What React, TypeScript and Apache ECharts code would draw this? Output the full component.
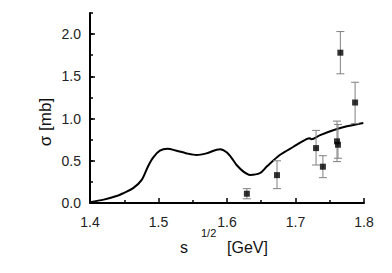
import React, { useEffect, useRef } from "react";
import * as echarts from "echarts";

const curveX = [1.40, 1.42, 1.44, 1.449, 1.463, 1.4755, 1.485, 1.4924, 1.502, 1.513, 1.5265, 1.54, 1.5557, 1.57, 1.5898, 1.5995, 1.609, 1.614, 1.624, 1.6336, 1.648, 1.658, 1.677, 1.697, 1.716, 1.721, 1.723, 1.736, 1.755, 1.775, 1.799];
const curveY = [0.01, 0.04, 0.085, 0.118, 0.176, 0.274, 0.439, 0.541, 0.619, 0.642, 0.619, 0.59, 0.568, 0.588, 0.637, 0.6, 0.509, 0.45, 0.372, 0.333, 0.353, 0.431, 0.568, 0.666, 0.756, 0.768, 0.755, 0.804, 0.862, 0.909, 0.948];

const pointX = [1.629, 1.673, 1.730, 1.740, 1.7606, 1.762, 1.7655, 1.787];
const pointY = [0.11, 0.33, 0.65, 0.43, 0.73, 0.69, 1.78, 1.19];
const errLow = [0.05, 0.17, 0.45, 0.30, 0.49, 0.53, 1.53, 0.94];
const errHigh = [0.17, 0.50, 0.86, 0.56, 0.97, 0.93, 2.03, 1.43];

const xTicks = [1.4, 1.5, 1.6, 1.7, 1.8];
const yTicks = [0.0, 0.5, 1.0, 1.5, 2.0];

const yTitle = "σ [mb]";
const xTitleBase = "s";
const xTitleSup = "1/2";
const xTitleUnit = "[GeV]";
const FONT = "'Liberation Sans', Arial, sans-serif";

export default function App() {
  const ref = useRef<HTMLDivElement>(null);
  useEffect(() => {
    if (!ref.current) return;
    const chart = echarts.init(ref.current, null, { renderer: "svg" });
    const axisLine = { show: true, lineStyle: { color: "#000", width: 2 } };
    const titleStyle = { fontSize: 16, fontFamily: FONT, fill: "#111", verticalAlign: "middle" };
    chart.setOption({
      animation: false,
      backgroundColor: "#fff",
      grid: { left: 90, right: 28, top: 13, bottom: 70 },
      graphic: [
        {
          type: "text",
          x: 45,
          y: 122,
          rotation: Math.PI / 2,
          style: {
            text: yTitle,
            fontSize: 17,
            fontFamily: FONT,
            fill: "#111",
            align: "center",
            verticalAlign: "middle",
          },
        },
        { type: "text", x: 180, y: 247, style: { ...titleStyle, text: xTitleBase, align: "left" } },
        { type: "text", x: 201, y: 233, style: { ...titleStyle, fontSize: 11, text: xTitleSup, align: "left" } },
        { type: "text", x: 227, y: 247, style: { ...titleStyle, text: xTitleUnit, align: "left" } },
      ],
      xAxis: [
        {
          type: "value",
          position: "bottom",
          min: xTicks[0],
          max: xTicks[xTicks.length - 1],
          interval: 0.1,
          axisLine,
          axisTick: { show: true, inside: true, length: 5, lineStyle: { color: "#000", width: 1.5 } },
          minorTick: { show: true, splitNumber: 2, length: 3, lineStyle: { color: "#000", width: 1.5 } },
          splitLine: { show: false },
          axisLabel: {
            margin: 12,
            color: "#222",
            fontSize: 14,
            fontFamily: FONT,
            formatter: (v: number) => v.toFixed(1),
          },
        },
      ],
      yAxis: [
        {
          type: "value",
          position: "left",
          min: 0,
          max: 2.25,
          interval: 0.5,
          axisLine,
          axisTick: { show: true, inside: true, length: 5, lineStyle: { color: "#000", width: 1.5 } },
          splitLine: { show: false },
          axisLabel: {
            showMaxLabel: false,
            margin: 9,
            color: "#222",
            fontSize: 14,
            fontFamily: FONT,
            formatter: (v: number) => (yTicks.indexOf(v) >= 0 ? v.toFixed(1) : ""),
          },
        },
        {
          type: "value",
          position: "left",
          min: 0,
          max: 2.25,
          interval: 0.25,
          axisLine: { show: false },
          axisTick: { show: true, inside: true, length: 3, lineStyle: { color: "#000", width: 1.5 } },
          splitLine: { show: false },
          axisLabel: { show: false },
        },
      ],
      series: [
        {
          type: "line",
          data: curveX.map((x, i) => [x, curveY[i]]),
          showSymbol: false,
          smooth: 0.3,
          lineStyle: { color: "#000", width: 2 },
          z: 2,
        },
        {
          type: "custom",
          data: pointX.map((x, i) => [x, errLow[i], errHigh[i]]),
          renderItem: (params: any, api: any) => {
            const x = api.value(0);
            const p1 = api.coord([x, api.value(1)]);
            const p2 = api.coord([x, api.value(2)]);
            const style = { stroke: "#808080", lineWidth: 1, fill: "none" };
            return {
              type: "group",
              children: [
                { type: "line", shape: { x1: p1[0], y1: p1[1], x2: p2[0], y2: p2[1] }, style },
                { type: "line", shape: { x1: p1[0] - 4, y1: p1[1], x2: p1[0] + 4, y2: p1[1] }, style },
                { type: "line", shape: { x1: p2[0] - 4, y1: p2[1], x2: p2[0] + 4, y2: p2[1] }, style },
              ],
            };
          },
          z: 3,
        },
        {
          type: "scatter",
          data: pointX.map((x, i) => [x, pointY[i]]),
          symbol: "rect",
          symbolSize: 6,
          itemStyle: { color: "#000" },
          z: 4,
        },
      ],
    });
    return () => chart.dispose();
  }, []);
  return <div ref={ref} style={{ width: 392, height: 273, position: "absolute", left: 0, top: 0 }} />;
}
